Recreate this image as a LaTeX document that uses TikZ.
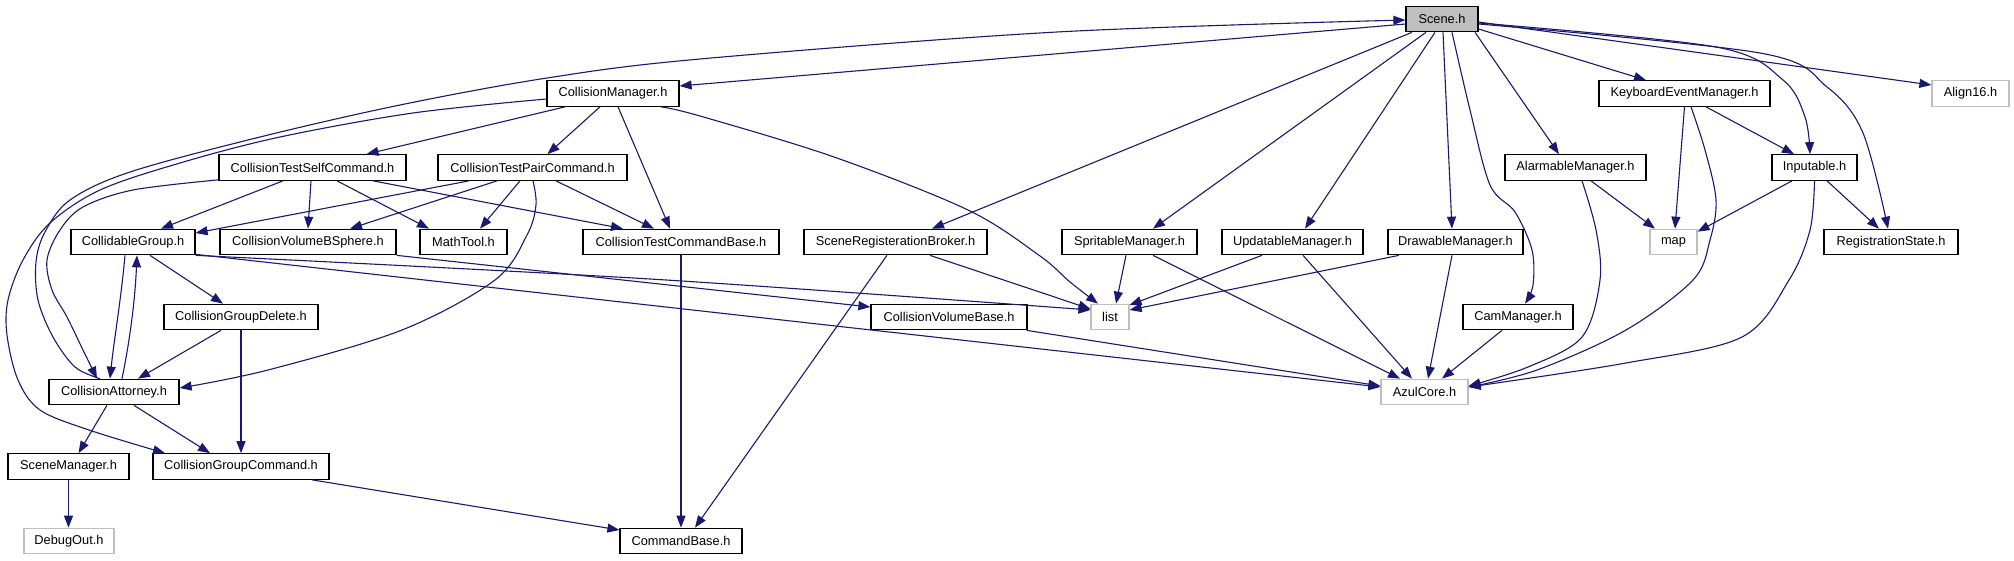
\documentclass[tikz,border=0pt]{standalone}
\usepackage{fontspec}
\setmainfont{Liberation Sans}
\usetikzlibrary{arrows.meta}
\definecolor{edgec}{RGB}{25,25,112}
\definecolor{greyb}{RGB}{191,191,191}
\begin{document}
\begin{tikzpicture}[x=1pt,y=-1pt,
  box/.style={draw=black, line width=1.2pt, minimum height=25.5pt, inner sep=0pt, fill=white, font=\fontsize{12.8}{15}\selectfont},
  ext/.style={box, draw=greyb},
  e/.style={draw=edgec, line width=1.1pt, -{Triangle[length=12pt,width=9pt]}},
  ne/.style={draw=edgec, line width=1.1pt},
  sm/.style={smooth, tension=0.55}
]
\useasboundingbox (0,0) rectangle (2014,560);
% row 0
\node[box, minimum width=72pt, fill=greyb] (scene) at (1442,19) {Scene.h};
% row 1
\node[box, minimum width=132pt] (cm) at (613,93.5) {CollisionManager.h};
\node[box, minimum width=171pt] (kem) at (1684.5,93.5) {KeyboardEventManager.h};
\node[ext, minimum width=77pt] (align) at (1970.5,93.5) {Align16.h};
% row 2
\node[box, minimum width=187pt] (ctsc) at (312.5,167.5) {CollisionTestSelfCommand.h};
\node[box, minimum width=189pt] (ctpc) at (532.5,167.5) {CollisionTestPairCommand.h};
\node[box, minimum width=141pt] (alarm) at (1575.5,167.5) {AlarmableManager.h};
\node[box, minimum width=85pt] (inp) at (1814.5,167.5) {Inputable.h};
% row 3
\node[box, minimum width=124pt] (cg) at (133,242) {CollidableGroup.h};
\node[box, minimum width=176pt] (cvbs) at (308,242) {CollisionVolumeBSphere.h};
\node[box, minimum width=87pt] (math) at (463.5,242) {MathTool.h};
\node[box, minimum width=196pt] (ctcb) at (681,242) {CollisionTestCommandBase.h};
\node[box, minimum width=183pt] (srb) at (895.5,242) {SceneRegisterationBroker.h};
\node[box, minimum width=135pt] (sprite) at (1129.5,242) {SpritableManager.h};
\node[box, minimum width=141pt] (upd) at (1292.5,242) {UpdatableManager.h};
\node[box, minimum width=135pt] (drw) at (1455.5,242) {DrawableManager.h};
\node[ext, minimum width=47pt] (map) at (1673.5,242) {map};
\node[box, minimum width=134pt] (regst) at (1891,242) {RegistrationState.h};
% row 4
\node[box, minimum width=154pt] (cgd) at (241,317) {CollisionGroupDelete.h};
\node[box, minimum width=156pt] (cvb) at (949,317) {CollisionVolumeBase.h};
\node[ext, minimum width=38pt] (list) at (1110,317) {list};
\node[box, minimum width=110pt] (cam) at (1518,317) {CamManager.h};
% row 5
\node[box, minimum width=130pt] (att) at (114,392) {CollisionAttorney.h};
\node[ext, minimum width=87pt] (azul) at (1424.5,392) {AzulCore.h};
% row 6
\node[box, minimum width=121pt] (smg) at (68.5,466.5) {SceneManager.h};
\node[box, minimum width=176pt] (cgc) at (241,466.5) {CollisionGroupCommand.h};
% row 7
\node[ext, minimum width=90pt] (dbg) at (69,541) {DebugOut.h};
\node[box, minimum width=122pt] (cb) at (681,541) {CommandBase.h};

% ---- edges from Scene.h
\draw[e] ([yshift=-5pt]scene.west) -- ([yshift=7.5pt]cm.east);
\draw[e] ([xshift=-30pt]scene.south) -- ([xshift=36.5pt]srb.north);
\draw[e] ([xshift=-16pt]scene.south) -- ([xshift=23.5pt]sprite.north);
\draw[e] ([xshift=-7pt]scene.south) -- ([xshift=12.5pt]upd.north);
\draw[e] ([xshift=1pt]scene.south) -- ([xshift=-3.5pt]drw.north);
\draw[e] plot[sm] coordinates {([xshift=10pt]scene.south) (1470,110) (1490,185) (1515,212) (1532,250) (1533,285) ([xshift=7pt]cam.north)};
\draw[e] ([xshift=33pt]scene.south) -- ([xshift=-16.5pt]alarm.north);
\draw[e] ([yshift=-10pt]scene.east) -- ([xshift=-38.5pt]kem.north);
\draw[e] plot[sm] coordinates {([yshift=-4pt]scene.east) (1716,47) (1783,80) (1805,117) ([xshift=-4.5pt]inp.north)};
\draw[e] plot[sm] coordinates {([yshift=-5pt]scene.east) (1760,53) (1827,87) (1863,133) ([xshift=-3pt]regst.north)};
\draw[e] ([yshift=-3pt]scene.east) -- ([yshift=8.5pt]align.west);
% back edge CollisionAttorney -> Scene
\draw[e] plot[sm] coordinates {([xshift=-14pt]att.north) (75,367) (53,337) (38,300) (36,262) (45,232) (70,200) (130,172) (260,137) (400,105) (547,78) (700,59) (1057,32) ([yshift=-1pt]scene.west)};

% ---- CollisionManager
\draw[e] ([xshift=-48pt]cm.south) -- ([xshift=54pt]ctsc.north);
\draw[e] ([xshift=-13pt]cm.south) -- ([xshift=15pt]ctpc.north);
\draw[e] ([xshift=5pt]cm.south) -- ([xshift=-11pt]ctcb.north);
\draw[e] plot[sm] coordinates {([xshift=48pt]cm.south) (700,116) (834,157) (968,210) (1040,256) (1070,282) ([xshift=-12pt]list.north)};
\draw[e] plot[sm] coordinates {([yshift=-5.5pt]cm.west) (413,113) (280,137) (180,163) (100,190) (50,223) (23,260) (8,300) (7,335) (18,380) (40,410) (89,430) ([xshift=-76pt]cgc.north)};

% ---- CollisionTestSelfCommand
\draw[e] ([xshift=-29.5pt]ctsc.south) -- ([xshift=28pt]cg.north);
\draw[e] ([xshift=-1.5pt]ctsc.south) -- (cvbs.north);
\draw[e] ([xshift=24.5pt]ctsc.south) -- ([xshift=-34.5pt]math.north);
\draw[e] ([xshift=60.5pt]ctsc.south) -- ([xshift=-58pt]ctcb.north);
\draw[e] plot[sm] coordinates {([yshift=1pt]ctsc.south west) (133,190) (83,207) (60,230) (47,260) (52,290) (67,317) (83,350) ([xshift=-17pt]att.north)};

% ---- CollisionTestPairCommand
\draw[e] ([xshift=-63.5pt]ctpc.south) -- ([yshift=9pt]cg.east);
\draw[e] ([xshift=-35.5pt]ctpc.south) -- ([xshift=42pt]cvbs.north);
\draw[e] ([xshift=-12.5pt]ctpc.south) -- ([xshift=16.5pt]math.north);
\draw[e] ([xshift=23.5pt]ctpc.south) -- ([xshift=-27pt]ctcb.north);
\draw[e] plot[sm] coordinates {([xshift=0.5pt]ctpc.south) (536,205) (527,235) (495,280) (402,330) (268,370) ([yshift=4pt]att.east)};

% ---- CollidableGroup
\draw[e] ([xshift=17pt]cg.south) -- ([xshift=-18pt]cgd.north);
\draw[e] ([xshift=-8pt]cg.south) .. controls (121,300) and (114,340) .. ([xshift=-4pt]att.north);
\draw[e] ([xshift=8pt]att.north) .. controls (130,340) and (135,300) .. ([xshift=4pt]cg.south);
\draw[e] plot[sm] coordinates {(cg.south east) (650,279) ([yshift=7pt]list.west)};
\draw[e] ([yshift=1pt]cg.south east) -- ([yshift=5pt]azul.west);

% ---- CollisionGroupDelete, Attorney
\draw[e] ([xshift=-20pt]cgd.south) -- ([xshift=24pt]att.north);
\draw[e] (cgd.south) -- (cgc.north);
\draw[e] ([xshift=-7pt]att.south) -- ([xshift=10pt]smg.north);
\draw[e] ([xshift=20pt]att.south) -- ([xshift=-31pt]cgc.north);
\draw[e] (smg.south) -- ([xshift=-0.5pt]dbg.north);
\draw[e] ([xshift=71pt]cgc.south) -- ([yshift=11pt]cb.west);
\draw[e] (ctcb.south) -- (cb.north);

% ---- volumes
\draw[e] (cvbs.south east) -- ([yshift=10pt]cvb.west);
\draw[e] ([xshift=-1pt]cvb.south east) -- ([yshift=6pt]azul.west);

% ---- managers
\draw[e] ([xshift=-8.5pt]srb.south) -- ([xshift=14pt]cb.north);
\draw[e] ([xshift=34.5pt]srb.south) -- ([yshift=8pt]list.west);
\draw[e] ([xshift=-3.5pt]sprite.south) -- ([xshift=6pt]list.north);
\draw[e] ([xshift=23.5pt]sprite.south) -- ([xshift=-24.5pt]azul.north);
\draw[e] ([xshift=-30.5pt]upd.south) -- ([yshift=12pt]list.east);
\draw[e] ([xshift=10.5pt]upd.south) -- ([xshift=-12.5pt]azul.north);
\draw[e] ([xshift=-56.5pt]drw.south) -- ([yshift=7pt]list.east);
\draw[e] ([xshift=-3.5pt]drw.south) -- ([xshift=3.5pt]azul.north);
\draw[e] ([xshift=-16pt]cam.south) -- ([xshift=17.5pt]azul.north);

% ---- right cluster
\draw[e] (kem.south) -- ([xshift=1.5pt]map.north);
\draw[e] ([xshift=21.5pt]kem.south) -- ([xshift=-20.5pt]inp.north);
\draw[e] plot[sm] coordinates {([xshift=6.5pt]kem.south) (1705,150) (1716,200) (1710,240) (1693,280) (1626,330) (1537,370) ([yshift=5pt]azul.east)};
\draw[e] ([xshift=15.5pt]alarm.south) -- ([xshift=-18.5pt]map.north);
\draw[e] plot[sm] coordinates {([xshift=6.5pt]alarm.south) (1596,230) (1600,280) (1582,337) (1528,367) ([yshift=6pt]azul.east)};
\draw[e] ([xshift=-22.5pt]inp.south) -- ([yshift=-3pt]map.north east);
\draw[e] ([xshift=12.5pt]inp.south) -- ([xshift=-12pt]regst.north);
\draw[e] plot[sm] coordinates {(inp.south) (1810,230) (1789,280) (1742,337) (1626,363) ([yshift=5pt]azul.east)};
\end{tikzpicture}
\end{document}
